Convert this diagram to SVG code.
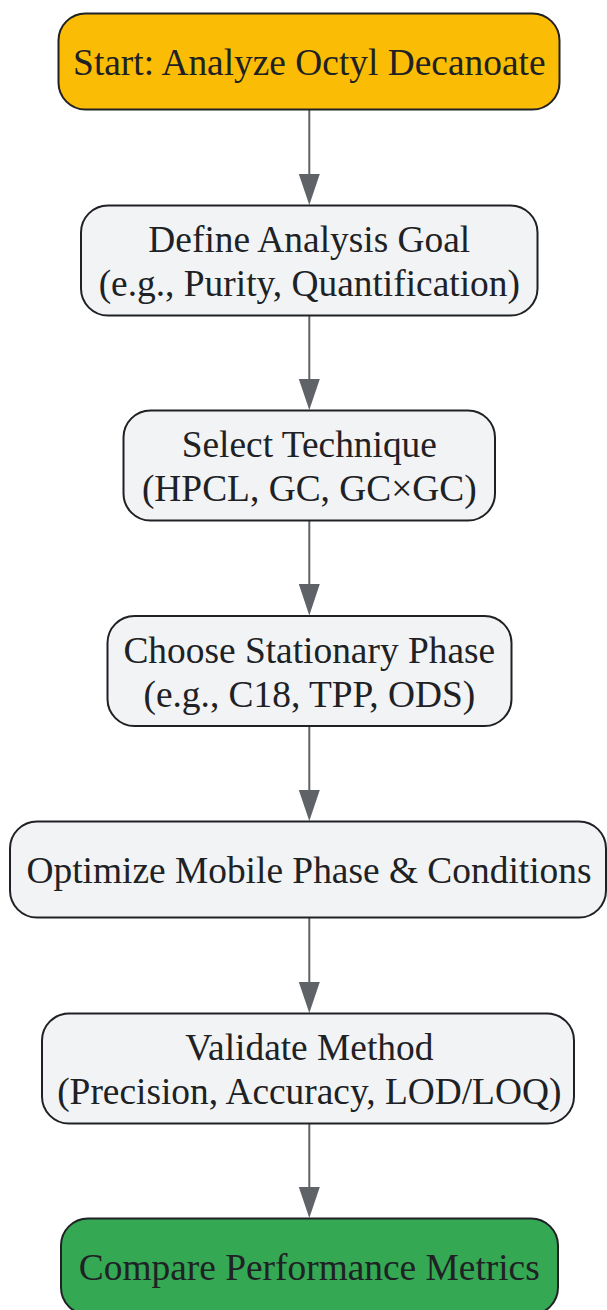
<svg xmlns="http://www.w3.org/2000/svg" width="607" height="1310" viewBox="0 0 607 1310">
<style>
  .box { stroke: #202124; stroke-width: 2; }
  .grey { fill: #F1F3F4; }
  .start { fill: #FBBC05; }
  .end { fill: #34A853; }
  .lbl { font-family: "Liberation Serif", "Times New Roman", serif; font-size: 37.4px; fill: #202124; text-anchor: middle; }
  .edge { stroke: #5F6368; stroke-width: 2; fill: none; }
  .head { fill: #5F6368; }
</style>
<rect width="607" height="1310" fill="#FFFFFF"/>
<g id="connectors">
  <line class="edge" x1="309.3" y1="110" x2="309.3" y2="176"/>
  <polygon class="head" points="298.8,174 319.8,174 309.3,205"/>
  <line class="edge" x1="309.3" y1="316" x2="309.3" y2="381"/>
  <polygon class="head" points="298.8,379 319.8,379 309.3,410"/>
  <line class="edge" x1="309.3" y1="521" x2="309.3" y2="586"/>
  <polygon class="head" points="298.8,584 319.8,584 309.3,615.5"/>
  <line class="edge" x1="309.3" y1="727" x2="309.3" y2="792"/>
  <polygon class="head" points="298.8,790 319.8,790 309.3,821"/>
  <line class="edge" x1="309.3" y1="918" x2="309.3" y2="984"/>
  <polygon class="head" points="298.8,982 319.8,982 309.3,1013"/>
  <line class="edge" x1="309.3" y1="1124" x2="309.3" y2="1189"/>
  <polygon class="head" points="298.8,1187 319.8,1187 309.3,1218"/>
</g>
<g id="node-start">
  <rect class="box start" x="58.5" y="13.5" width="501" height="96" rx="27" ry="27"/>
  <text class="lbl" x="309.3" y="74.5">Start: Analyze Octyl Decanoate</text>
</g>
<g id="node-goal">
  <rect class="box grey" x="81" y="205.5" width="456.5" height="110" rx="27" ry="27"/>
  <text class="lbl" x="309.3" y="251.5">Define Analysis Goal</text>
  <text class="lbl" x="309.3" y="296">(e.g., Purity, Quantification)</text>
</g>
<g id="node-technique">
  <rect class="box grey" x="123.5" y="410.5" width="371.5" height="110" rx="27" ry="27"/>
  <text class="lbl" x="309.3" y="456.5">Select Technique</text>
  <text class="lbl" x="309.3" y="501">(HPCL, GC, GC×GC)</text>
</g>
<g id="node-phase">
  <rect class="box grey" x="107.5" y="616" width="404" height="110" rx="27" ry="27"/>
  <text class="lbl" x="309.3" y="662.5">Choose Stationary Phase</text>
  <text class="lbl" x="309.3" y="707">(e.g., C18, TPP, ODS)</text>
</g>
<g id="node-optimize">
  <rect class="box grey" x="10" y="821.5" width="596" height="96" rx="27" ry="27"/>
  <text class="lbl" x="309" y="882.5">Optimize Mobile Phase &amp; Conditions</text>
</g>
<g id="node-validate">
  <rect class="box grey" x="42" y="1013.5" width="532" height="110" rx="27" ry="27"/>
  <text class="lbl" x="309.3" y="1059.5">Validate Method</text>
  <text class="lbl" x="309.3" y="1104">(Precision, Accuracy, LOD/LOQ)</text>
</g>
<g id="node-compare">
  <rect class="box end" x="61" y="1218.5" width="497" height="96" rx="27" ry="27"/>
  <text class="lbl" x="309.3" y="1279.5">Compare Performance Metrics</text>
</g>
</svg>
